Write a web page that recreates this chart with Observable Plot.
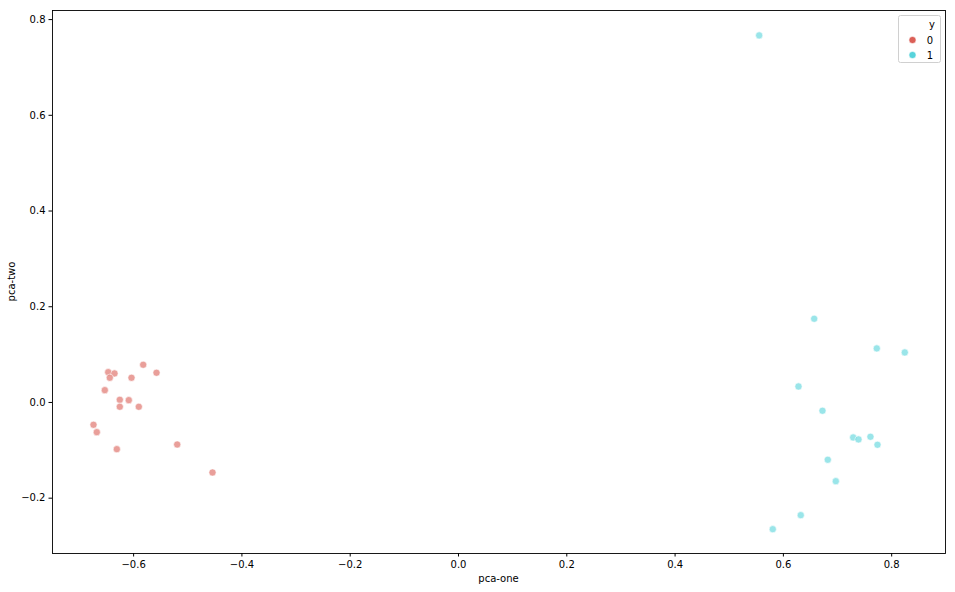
<!DOCTYPE html>
<html><head><meta charset="utf-8">
<script src="https://cdn.jsdelivr.net/npm/d3@7"></script>
<script src="https://cdn.jsdelivr.net/npm/@observablehq/plot@0.6"></script>
<style>body{margin:0;background:#fff}</style>
</head><body><div id="chart"></div>
<script>
const class0X = [-0.5823,-0.5577,-0.6469,-0.6353,-0.6440,-0.6039,-0.6532,-0.6255,-0.6089,-0.6255,-0.5904,-0.6741,-0.6680,-0.6310,-0.5195,-0.4543];
const class0Y = [0.0788,0.0621,0.0633,0.0606,0.0516,0.0516,0.0257,0.0056,0.0048,-0.0090,-0.0090,-0.0466,-0.0621,-0.0976,-0.0878,-0.1463];
const class1X = [0.5553,0.6569,0.7725,0.8242,0.6279,0.6722,0.7289,0.7387,0.7608,0.7738,0.6820,0.6968,0.6321,0.5804];
const class1Y = [0.7670,0.1749,0.1129,0.1045,0.0334,-0.0173,-0.0731,-0.0773,-0.0717,-0.0884,-0.1197,-0.1645,-0.2355,-0.2648];
const classes = ["0","1"];
const colors = ["#db5f57","#57d3db"];
const xTicks = [-0.6,-0.4,-0.2,0.0,0.2,0.4,0.6,0.8];
const yTicks = [-0.2,0.0,0.2,0.4,0.6,0.8];

const data = [
  ...class0X.map((x,i)=>({x, y:class0Y[i], c:"0"})),
  ...class1X.map((x,i)=>({x, y:class1Y[i], c:"1"}))
];
const fmt = d3.format(".1f");
const W=955,H=592,mL=52,mR=10,mT=10,mB=39;
const plot = Plot.plot({
  width:W, height:H, marginLeft:mL, marginRight:mR, marginTop:mT, marginBottom:mB,
  style:{fontFamily:"DejaVu Sans", fontSize:"10px", color:"#000", background:"#fff"},
  x:{domain:[-0.7498,0.8994]},
  y:{domain:[-0.3156,0.819]},
  color:{domain:classes, range:colors},
  marks:[
    Plot.axisX({ticks:xTicks, tickFormat:fmt, tickSize:3.5, tickPadding:3.5, label:null, fontSize:10}),
    Plot.axisY({ticks:yTicks, tickFormat:fmt, tickSize:3.5, tickPadding:3.5, label:null, fontSize:10}),
    Plot.dot(data,{x:"x", y:"y", fill:"c", r:3.6, fillOpacity:0.6, stroke:"white", strokeWidth:0.6}),
    Plot.frame({stroke:"#000", strokeWidth:0.9, strokeOpacity:1})
  ]
});
document.getElementById("chart").appendChild(plot);
const svg = d3.select(plot);
svg.append("text").attr("x",(mL+W-mR)/2).attr("y",H-10).attr("text-anchor","middle")
  .attr("font-family","DejaVu Sans").attr("font-size",10).attr("fill","#000").text("pca-one");
svg.append("text").attr("transform",`translate(15,${(mT+H-mB)/2}) rotate(-90)`).attr("text-anchor","middle")
  .attr("font-family","DejaVu Sans").attr("font-size",10).attr("fill","#000").text("pca-two");
// legend
const lg = svg.append("g").attr("font-family","DejaVu Sans").attr("font-size",10).attr("fill","#000");
lg.append("rect").attr("x",898.5).attr("y",15.5).attr("width",42).attr("height",47).attr("rx",2)
  .attr("fill","white").attr("fill-opacity",0.8).attr("stroke","#d0d0d0").attr("stroke-width",1);
lg.append("text").attr("x",932).attr("y",28).attr("text-anchor","middle").text("y");
classes.forEach((c,i)=>{
  const yy = 40 + i*15;
  lg.append("circle").attr("cx",912.5).attr("cy",yy).attr("r",3.6).attr("fill",colors[i]).attr("stroke","white").attr("stroke-width",0.6);
  lg.append("text").attr("x",930).attr("y",yy+3.5).text(c);
});
</script></body></html>
